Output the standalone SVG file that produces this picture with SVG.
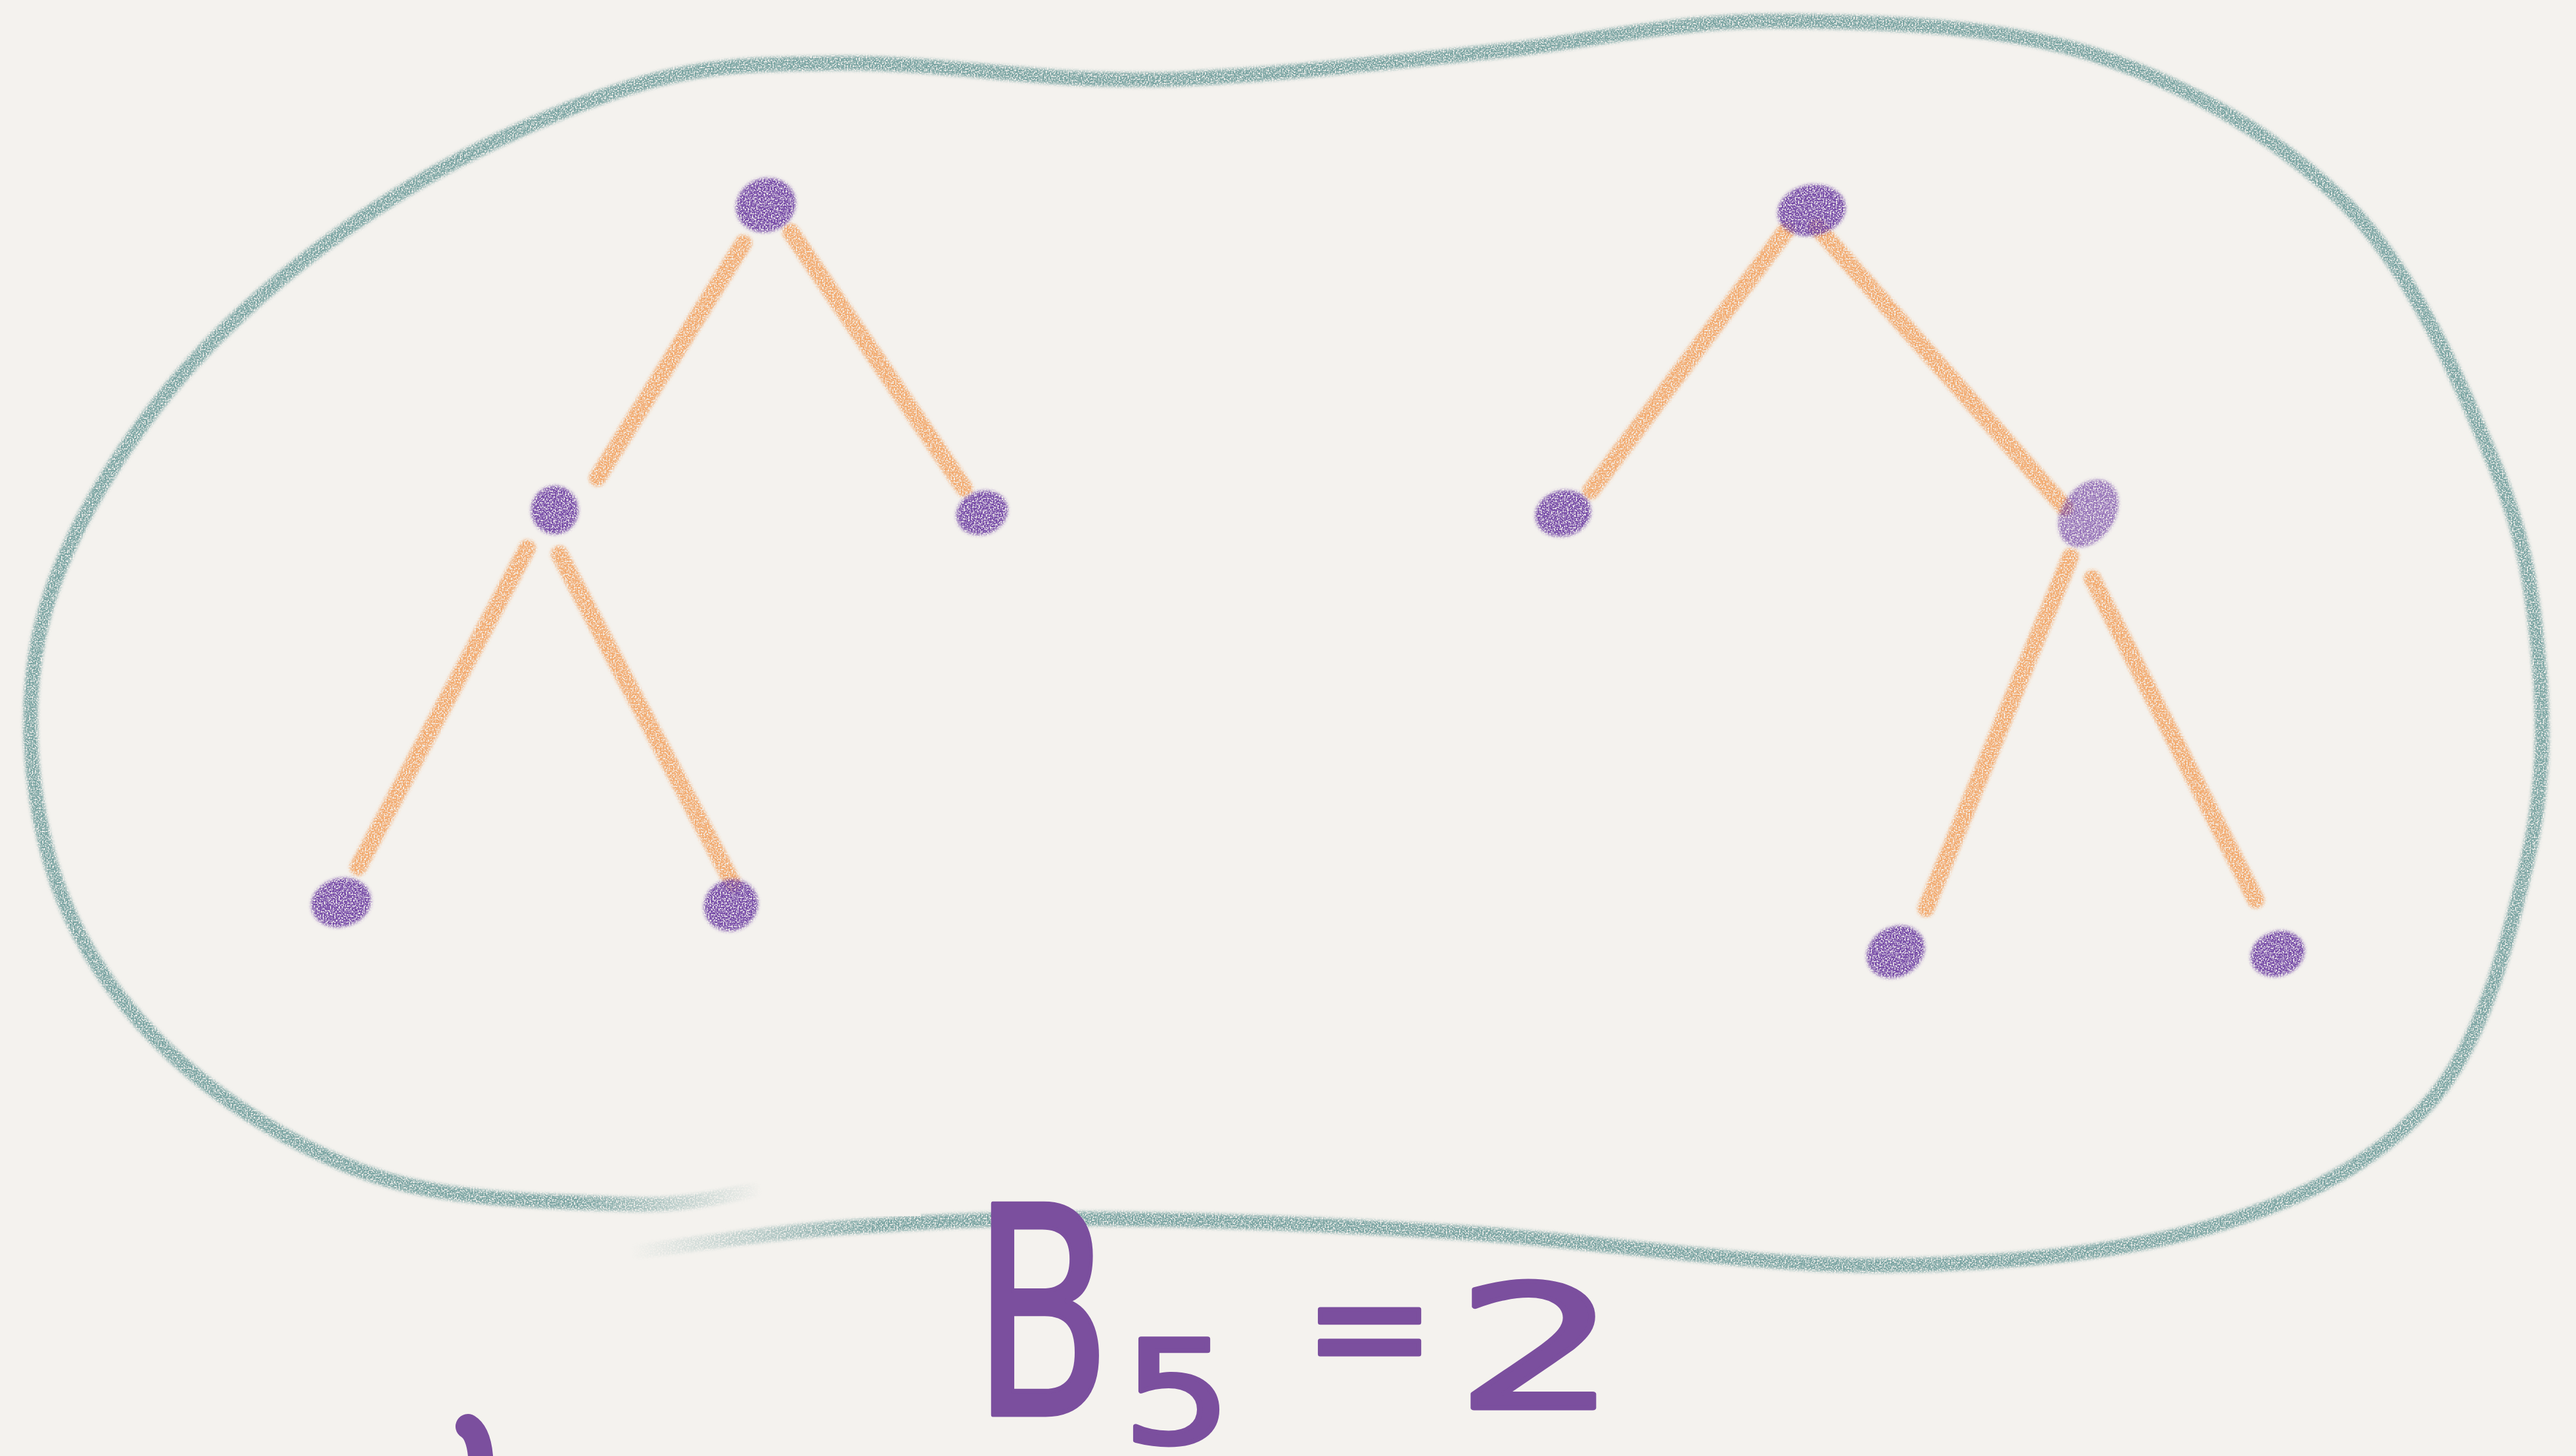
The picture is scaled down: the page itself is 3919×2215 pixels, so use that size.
<svg xmlns="http://www.w3.org/2000/svg" width="3919" height="2215" viewBox="0 0 3919 2215">
<style>
.loop{fill:none;stroke:#78a3a1;stroke-width:22;stroke-linecap:round;stroke-linejoin:round}
.edge{fill:none;stroke:#f29c55;stroke-width:26;stroke-linecap:round;stroke-opacity:0.85}
.node{fill:#7548a6}
.hand{font-family:"DejaVu Sans","Liberation Sans",sans-serif;fill:#7b4f9e;stroke:#7b4f9e;stroke-width:7;stroke-linejoin:round}
</style>
<defs>
<filter id="grain" filterUnits="userSpaceOnUse" x="0" y="0" width="3919" height="2215">
<feGaussianBlur in="SourceGraphic" stdDeviation="2.5" result="b"/>
<feTurbulence type="fractalNoise" baseFrequency="0.45" numOctaves="2" seed="4" result="n"/>
<feColorMatrix in="n" type="matrix" values="0 0 0 0 0 0 0 0 0 0 0 0 0 0 0 0 0 0 3.6 -1.05" result="m"/>
<feComposite in="b" in2="m" operator="in"/>
</filter>
<linearGradient id="fadeUpper" gradientUnits="userSpaceOnUse" x1="880" y1="0" x2="1160" y2="0">
<stop offset="0" stop-color="#fff"/><stop offset="1" stop-color="#000"/>
</linearGradient>
<linearGradient id="fadeLower" gradientUnits="userSpaceOnUse" x1="960" y1="0" x2="1340" y2="0">
<stop offset="0" stop-color="#000"/><stop offset="1" stop-color="#fff"/>
</linearGradient>
<mask id="fadeEnds" maskUnits="userSpaceOnUse" x="0" y="0" width="3919" height="2215">
<rect width="3919" height="2215" fill="#fff"/>
<rect x="600" y="1700" width="800" height="150" fill="url(#fadeUpper)"/>
<rect x="600" y="1850" width="800" height="150" fill="url(#fadeLower)"/>
</mask>
</defs>
<rect width="3919" height="2215" fill="#f4f2ee"/>

<g id="loop" filter="url(#grain)" mask="url(#fadeEnds)">
<path class="loop" d="M969,1904 C1020,1898 1161,1876 1276,1868 C1391,1860 1500,1853 1658,1854 C1816,1855 2021,1863 2222,1875 C2423,1887 2673,1927 2866,1925 C3059,1923 3241,1904 3381,1861 C3521,1818 3626,1760 3703,1669 C3780,1578 3817,1425 3844,1313 C3871,1201 3871,1102 3862,1000 C3853,898 3841,816 3793,702 C3745,588 3675,419 3574,316 C3473,213 3334,131 3188,84 C3042,37 2850,33 2700,32 C2550,31 2419,63 2286,77 C2153,91 2004,107 1900,114 C1796,121 1764,123 1660,120 C1556,117 1393,94 1276,96 C1159,98 1074,96 957,133 C840,170 691,239 574,316 C457,393 340,491 255,596 C170,701 94,827 64,947 C34,1067 45,1204 77,1313 C109,1422 172,1518 255,1598 C338,1678 457,1751 574,1790 C691,1829 861,1828 957,1832 C1053,1836 1116,1815 1148,1811"/>
</g>

<g id="connectors" filter="url(#grain)">
<line class="edge" x1="1131" y1="370" x2="909" y2="727"/>
<line class="edge" x1="1203" y1="353" x2="1467" y2="743"/>
<line class="edge" x1="802" y1="834" x2="545" y2="1319"/>
<line class="edge" x1="851" y1="843" x2="1115" y2="1344"/>
<line class="edge" x1="2718" y1="350" x2="2420" y2="747"/>
<line class="edge" x1="2764" y1="345" x2="3141" y2="772"/>
<line class="edge" x1="3150" y1="847" x2="2930" y2="1382"/>
<line class="edge" x1="3183" y1="880" x2="3432" y2="1369"/>
</g>

<g filter="url(#grain)">
<g id="node-A"><ellipse class="node" cx="1165" cy="312" rx="46" ry="41" transform="rotate(-20 1165 312)"/></g>
<g id="node-B"><ellipse class="node" cx="844" cy="776" rx="36" ry="37"/></g>
<g id="node-C"><ellipse class="node" cx="1494" cy="780" rx="40" ry="33" transform="rotate(-20 1494 780)"/></g>
<g id="node-D"><ellipse class="node" cx="519" cy="1373" rx="46" ry="37" transform="rotate(-15 519 1373)"/></g>
<g id="node-E"><ellipse class="node" cx="1112" cy="1377" rx="42" ry="39" transform="rotate(-30 1112 1377)"/></g>
<g id="node-F"><ellipse class="node" cx="2756" cy="320" rx="52" ry="39" transform="rotate(-10 2756 320)"/></g>
<g id="node-G"><ellipse class="node" cx="2378" cy="781" rx="43" ry="35" transform="rotate(-15 2378 781)"/></g>
<g id="node-H"><ellipse class="node" cx="3177" cy="781" rx="40" ry="56" opacity="0.75" transform="rotate(35 3177 781)"/></g>
<g id="node-I"><ellipse class="node" cx="2884" cy="1448" rx="46" ry="38" transform="rotate(-30 2884 1448)"/></g>
<g id="node-J"><ellipse class="node" cx="3465" cy="1451" rx="42" ry="34" transform="rotate(-20 3465 1451)"/></g>
</g>

<g id="label">
<text class="hand" font-size="440" transform="translate(1480,2152) scale(0.7,1)">B</text>
<text class="hand" font-size="217" transform="translate(1708,2195) scale(1.2,1)">5</text>
<text class="hand" font-size="240" transform="translate(1983,2101)">=</text>
<text class="hand" font-size="260" transform="translate(2214,2142) scale(1.5,1)">2</text>
</g>
<path d="M712,2170 Q728,2180 731,2215" fill="none" stroke="#7b4f9e" stroke-width="38" stroke-linecap="round"/>
</svg>
